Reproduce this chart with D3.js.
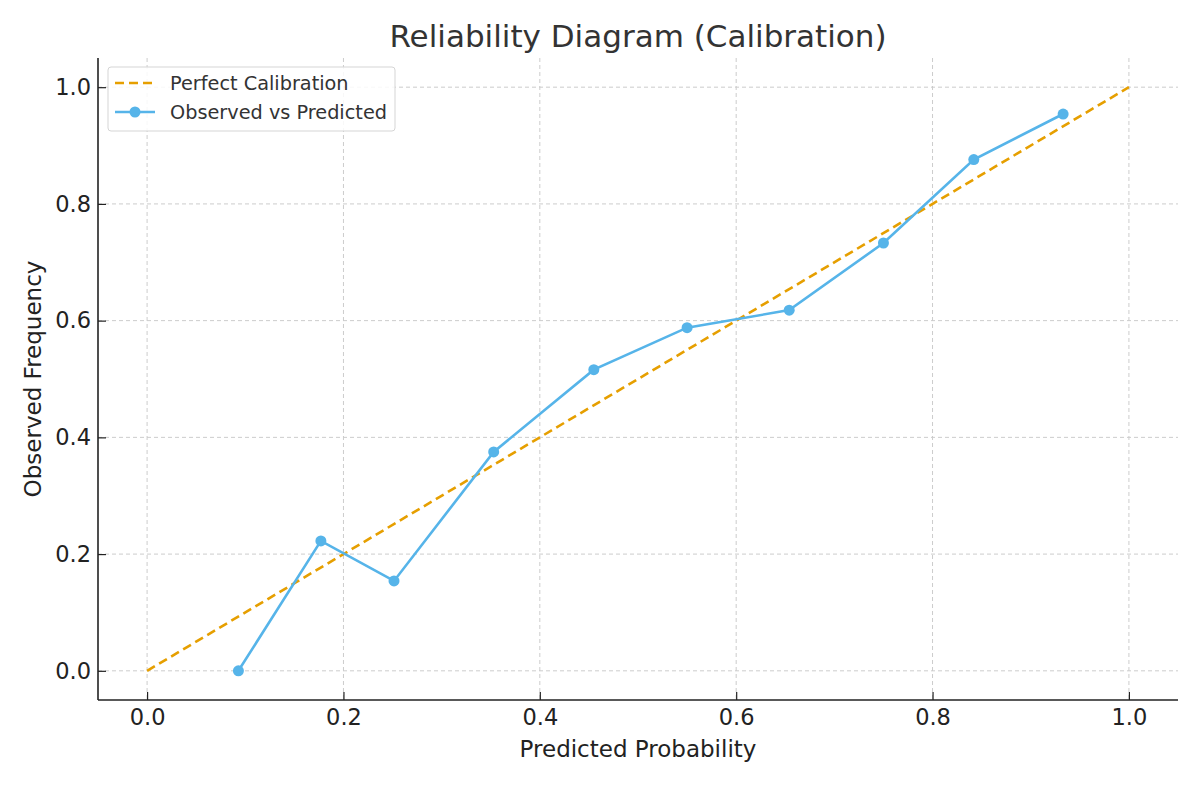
<!DOCTYPE html>
<html><head><meta charset="utf-8">
<script src="https://cdn.jsdelivr.net/npm/d3@7"></script>
<style>body{margin:0;background:#fff}svg{display:block}text{font-family:"DejaVu Sans",sans-serif}</style>
</head><body><svg id="c" width="1200" height="785"></svg>
<script>
const predicted = [0.093, 0.177, 0.2515, 0.353, 0.455, 0.55, 0.654, 0.750, 0.842, 0.933];
const observed  = [0.0, 0.2226, 0.154, 0.375, 0.516, 0.588, 0.618, 0.733, 0.876, 0.954];
const perfect = [0, 1];
const ticks = [0.0, 0.2, 0.4, 0.6, 0.8, 1.0];

const svg = d3.select("#c");
const L = 98, R = 1178, T = 58, B = 700;
const x = d3.scaleLinear().domain([-0.05, 1.05]).range([L, R]);
const y = d3.scaleLinear().domain([-0.05, 1.05]).range([B, T]);

// grid
const g = svg.append("g");
g.selectAll(".gx").data(ticks).join("line")
  .attr("x1", d => x(d)).attr("x2", d => x(d)).attr("y1", T).attr("y2", B)
  .attr("stroke", "#cccccc").attr("stroke-width", 1).attr("stroke-dasharray", "4,3");
g.selectAll(".gy").data(ticks).join("line")
  .attr("y1", d => y(d)).attr("y2", d => y(d)).attr("x1", L).attr("x2", R)
  .attr("stroke", "#cccccc").attr("stroke-width", 1).attr("stroke-dasharray", "4,3");

// axes (ticks point inward)
const xa = svg.append("g").attr("transform", `translate(0,${B})`)
  .call(d3.axisBottom(x).tickValues(ticks).tickFormat(d3.format(".1f")).tickSizeInner(-8).tickSizeOuter(0).tickPadding(9));
const ya = svg.append("g").attr("transform", `translate(${L},0)`)
  .call(d3.axisLeft(y).tickValues(ticks).tickFormat(d3.format(".1f")).tickSizeInner(-8).tickSizeOuter(0).tickPadding(7));
[xa, ya].forEach(a => {
  a.select(".domain").attr("stroke", "#222").attr("stroke-width", 1.6);
  a.selectAll(".tick line").attr("stroke", "#222").attr("stroke-width", 1.2);
  a.selectAll(".tick text").attr("font-size", 22.5).attr("fill", "#222").style("font-family", '"DejaVu Sans"');
});
xa.select(".domain").attr("d", `M${L},0H${R}`);
ya.select(".domain").attr("d", `M0,${B}V${T}`);

// perfect line
svg.append("path").datum(perfect)
  .attr("d", d3.line().x(d => x(d)).y(d => y(d)))
  .attr("fill", "none").attr("stroke", "#E69F00").attr("stroke-width", 2.6).attr("stroke-dasharray", "9,5");

// observed line
const pts = predicted.map((p, i) => [p, observed[i]]);
svg.append("path").datum(pts)
  .attr("d", d3.line().x(d => x(d[0])).y(d => y(d[1])))
  .attr("fill", "none").attr("stroke", "#56B4E9").attr("stroke-width", 2.6);
svg.selectAll(".pt").data(pts).join("circle")
  .attr("cx", d => x(d[0])).attr("cy", d => y(d[1])).attr("r", 5.5).attr("fill", "#56B4E9");

// title & labels
svg.append("text").attr("x", (L + R) / 2).attr("y", 47).attr("text-anchor", "middle")
  .attr("font-size", 31).attr("fill", "#333").text("Reliability Diagram (Calibration)");
svg.append("text").attr("x", (L + R) / 2).attr("y", 757).attr("text-anchor", "middle")
  .attr("font-size", 23).attr("fill", "#222").text("Predicted Probability");
svg.append("text").attr("transform", `translate(41,${(T + B) / 2}) rotate(-90)`).attr("text-anchor", "middle")
  .attr("font-size", 23).attr("fill", "#222").text("Observed Frequency");

// legend
const lg = svg.append("g");
lg.append("rect").attr("x", 108).attr("y", 67).attr("width", 287).attr("height", 64).attr("rx", 3)
  .attr("fill", "#fff").attr("fill-opacity", 0.85).attr("stroke", "#d5d5d5").attr("stroke-width", 1);
lg.append("line").attr("x1", 115).attr("x2", 155).attr("y1", 83).attr("y2", 83)
  .attr("stroke", "#E69F00").attr("stroke-width", 2.6).attr("stroke-dasharray", "9,5");
lg.append("line").attr("x1", 115).attr("x2", 155).attr("y1", 112).attr("y2", 112)
  .attr("stroke", "#56B4E9").attr("stroke-width", 2.6);
lg.append("circle").attr("cx", 135).attr("cy", 112).attr("r", 5.5).attr("fill", "#56B4E9");
lg.append("text").attr("x", 170).attr("y", 90).attr("font-size", 19.3).attr("fill", "#333").text("Perfect Calibration");
lg.append("text").attr("x", 170).attr("y", 119).attr("font-size", 19.3).attr("fill", "#333").text("Observed vs Predicted");
</script></body></html>
